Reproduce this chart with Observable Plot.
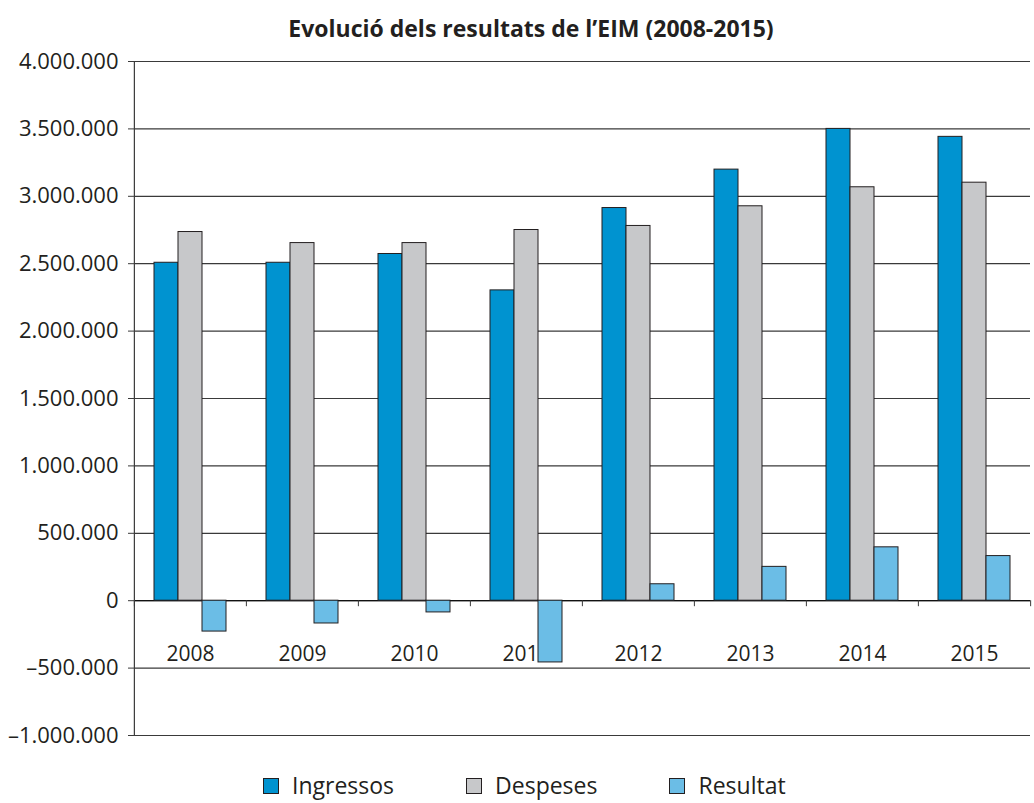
<!DOCTYPE html>
<html>
<head>
<meta charset="utf-8">
<script src="https://cdn.jsdelivr.net/npm/d3@7"></script>
<script src="https://cdn.jsdelivr.net/npm/@observablehq/plot@0.6"></script>
<style>
  html, body { margin: 0; padding: 0; background: #fff; }
  body { width: 1034px; height: 803px; position: relative; overflow: hidden; font-family: "Open Sans", sans-serif; color: #231f20; }
  #title { position: absolute; left: 28px; width: 1006px; top: 15px; text-align: center; font-weight: bold; font-size: 23px; line-height: 1.2; }
  #chart { position: absolute; left: 0; top: 40px; }
  #legend { position: absolute; left: 263px; top: 772px; display: flex; align-items: center; font-size: 23px; line-height: 1.2; }
  .item { display: flex; align-items: center; margin-right: 72px; }
  .sw { width: 14px; height: 14px; border: 1px solid #231f20; margin-right: 13px; }
</style>
</head>
<body>
<div id="title">Evolució dels resultats de l’EIM (2008-2015)</div>
<div id="chart"></div>
<div id="legend"></div>
<script>
const years = ["2008", "2009", "2010", "2011", "2012", "2013", "2014", "2015"];
const series = ["Ingressos", "Despeses", "Resultat"];
const ingressos = [2507000, 2507000, 2572000, 2302000, 2913000, 3198000, 3500000, 3441000];
const despeses  = [2735000, 2653000, 2653000, 2750000, 2780000, 2926000, 3067000, 3101000];
const resultat  = [-229000, -169000, -87000, -458000, 122000, 251000, 396000, 331000];
const yTicks = [-1000000, -500000, 0, 500000, 1000000, 1500000, 2000000, 2500000, 3000000, 3500000, 4000000];
const colors = ["#0093d0", "#c7c8ca", "#6bbde6"];

const values = [ingressos, despeses, resultat];
const data = years.flatMap((year, i) => series.map((serie, j) => ({year, serie, value: values[j][i]})));

const W = 1034, H = 720, mL = 133, mR = 3, mT = 21, mB = 25;
const yMin = -1000000, yMax = 4000000;
const fxW = (W - mL - mR) / years.length;
const tickLen = 6 * (yMax - yMin) / (H - mT - mB);

const locale = d3.formatLocale({decimal: ",", thousands: ".", grouping: [3], currency: ["", " €"], minus: "\u2013"});
const fmt = locale.format(",d");

const chart = Plot.plot({
  width: W, height: H,
  marginLeft: mL, marginRight: mR, marginTop: mT, marginBottom: mB,
  style: {fontFamily: "Open Sans, sans-serif", fontSize: "21px", color: "#231f20", background: "#fff", overflow: "visible"},
  fx: {domain: years, padding: 0, axis: null},
  x: {domain: series, paddingInner: 0, paddingOuter: 0.8, axis: null},
  y: {domain: [yMin, yMax], axis: null, label: null},
  color: {domain: series, range: colors},
  marks: [
    Plot.gridY(yTicks, {stroke: "#3a3a3a", strokeOpacity: 1, strokeWidth: 1.2}),
    Plot.ruleY([0], {stroke: "#111", strokeWidth: 1.2}),
    Plot.text(years, {fx: d => d, y: 0, text: d => d, dy: 54, fontSize: 21, fill: "#231f20"}),
    Plot.barY(data, {fx: "year", x: "serie", y: "value", fill: "serie", stroke: "#231f20", strokeWidth: 1}),
    Plot.ruleX([years[0]], {fx: d => d, x: null, y1: yMin, y2: yMax, dx: -fxW / 2, stroke: "#3a3a3a", strokeWidth: 1.2}),
    Plot.ruleX(years, {fx: d => d, x: null, y1: 0, y2: -tickLen, dx: -fxW / 2, stroke: "#3a3a3a"}),
    Plot.ruleX([years[years.length - 1]], {fx: d => d, x: null, y1: 0, y2: -tickLen, dx: fxW / 2, stroke: "#3a3a3a"}),
    Plot.axisY({ticks: yTicks, tickFormat: fmt, tickSize: 6, tickPadding: 10, fontSize: 22, stroke: "#3a3a3a", label: null})
  ]
});
document.getElementById("chart").appendChild(chart);

const legend = document.getElementById("legend");
series.forEach((s, i) => {
  const item = document.createElement("div");
  item.className = "item";
  const sw = document.createElement("div");
  sw.className = "sw";
  sw.style.background = colors[i];
  const label = document.createElement("span");
  label.textContent = s;
  item.appendChild(sw);
  item.appendChild(label);
  legend.appendChild(item);
});
</script>
</body>
</html>
